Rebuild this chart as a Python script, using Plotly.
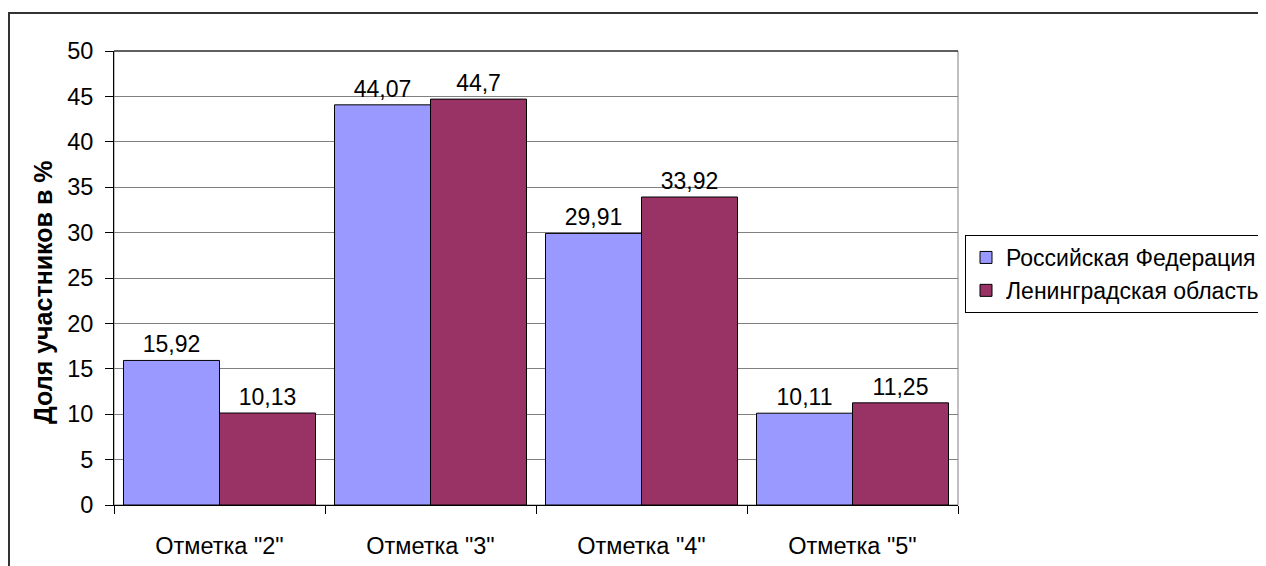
import plotly.graph_objects as go

categories = ['Отметка "2"', 'Отметка "3"', 'Отметка "4"', 'Отметка "5"']
rf_values = [15.92, 44.07, 29.91, 10.11]
lo_values = [10.13, 44.7, 33.92, 11.25]
series_names = ["Российская Федерация", "Ленинградская область"]
y_ticks = [0, 5, 10, 15, 20, 25, 30, 35, 40, 45, 50]
y_title = "Доля участников в %"

def fmt(v):
    return str(v).replace(".", ",")

FONT = "Liberation Sans, Arial, sans-serif"
FS = 23.5
OFF = 8  # page body margin

fig = go.Figure()
fig.add_trace(go.Bar(
    x=categories, y=rf_values, name=series_names[0],
    marker=dict(color="#9999FF", line=dict(color="#000000", width=1)),
    text=[fmt(v) for v in rf_values], textposition="outside",
    textfont=dict(size=23, color="#000000", family=FONT), cliponaxis=False,
))
fig.add_trace(go.Bar(
    x=categories, y=lo_values, name=series_names[1],
    marker=dict(color="#993366", line=dict(color="#000000", width=1)),
    text=[fmt(v) for v in lo_values], textposition="outside",
    textfont=dict(size=23, color="#000000", family=FONT), cliponaxis=False,
))

W, H = 1266 - OFF, 566 - OFF
L, R, T, B = 114 - OFF, 958 - OFF, 51 - OFF, 505 - OFF
pw, ph = R - L, B - T

fig.update_layout(
    width=W, height=H,
    margin=dict(l=L, r=W - R, t=T, b=H - B, pad=0, autoexpand=False),
    paper_bgcolor="white", plot_bgcolor="white",
    barmode="group", bargap=0.09, bargroupgap=0,
    font=dict(family=FONT, size=FS, color="#000000"),
    separators=", ",
    showlegend=True,
    legend=dict(
        x=(965 - OFF - L) / pw, y=(B - (235 - OFF)) / ph, xanchor="left", yanchor="top",
        bordercolor="#000000", borderwidth=1, bgcolor="white",
        font=dict(size=23, family=FONT), tracegroupgap=0,
        itemwidth=30,
    ),
    xaxis=dict(
        type="category", tickson="boundaries", ticks="outside", ticklen=8,
        tickcolor="#000000", showline=True, linecolor="#000000", linewidth=1,
        showgrid=False, tickfont=dict(size=FS), ticklabelstandoff=20,
        automargin=False,
    ),
    yaxis=dict(
        range=[0, 50], tickvals=y_ticks, ticks="outside", ticklen=8,
        tickcolor="#000000", showline=True, linecolor="#000000", linewidth=1,
        showgrid=True, gridcolor="#808080", gridwidth=1, zeroline=False,
        tickfont=dict(size=FS), ticklabelstandoff=7, automargin=False,
    ),
    annotations=[
        dict(text="<b>" + y_title + "</b>", xref="paper", yref="paper",
             x=(43 - OFF - L) / pw, y=(B - (293 - OFF)) / ph,
             xanchor="center", yanchor="middle", textangle=-90,
             showarrow=False, font=dict(size=25, family=FONT, color="#000000")),
    ],
    shapes=[
        dict(type="rect", xref="paper", yref="paper", x0=0, x1=1, y0=0, y1=1,
             line=dict(color="#808080", width=1), layer="below"),
        dict(type="line", xref="paper", yref="paper", x0=0, x1=1, y0=1, y1=1,
             line=dict(color="#000000", width=1)),
        dict(type="rect", xref="paper", yref="paper",
             x0=(9 - OFF - L) / pw, x1=(W + 10 - L) / pw,
             y0=(B - (H + 10)) / ph, y1=(B - (13 - OFF)) / ph,
             line=dict(color="#333333", width=2)),
    ],
)

fig.write_html("out.html")
